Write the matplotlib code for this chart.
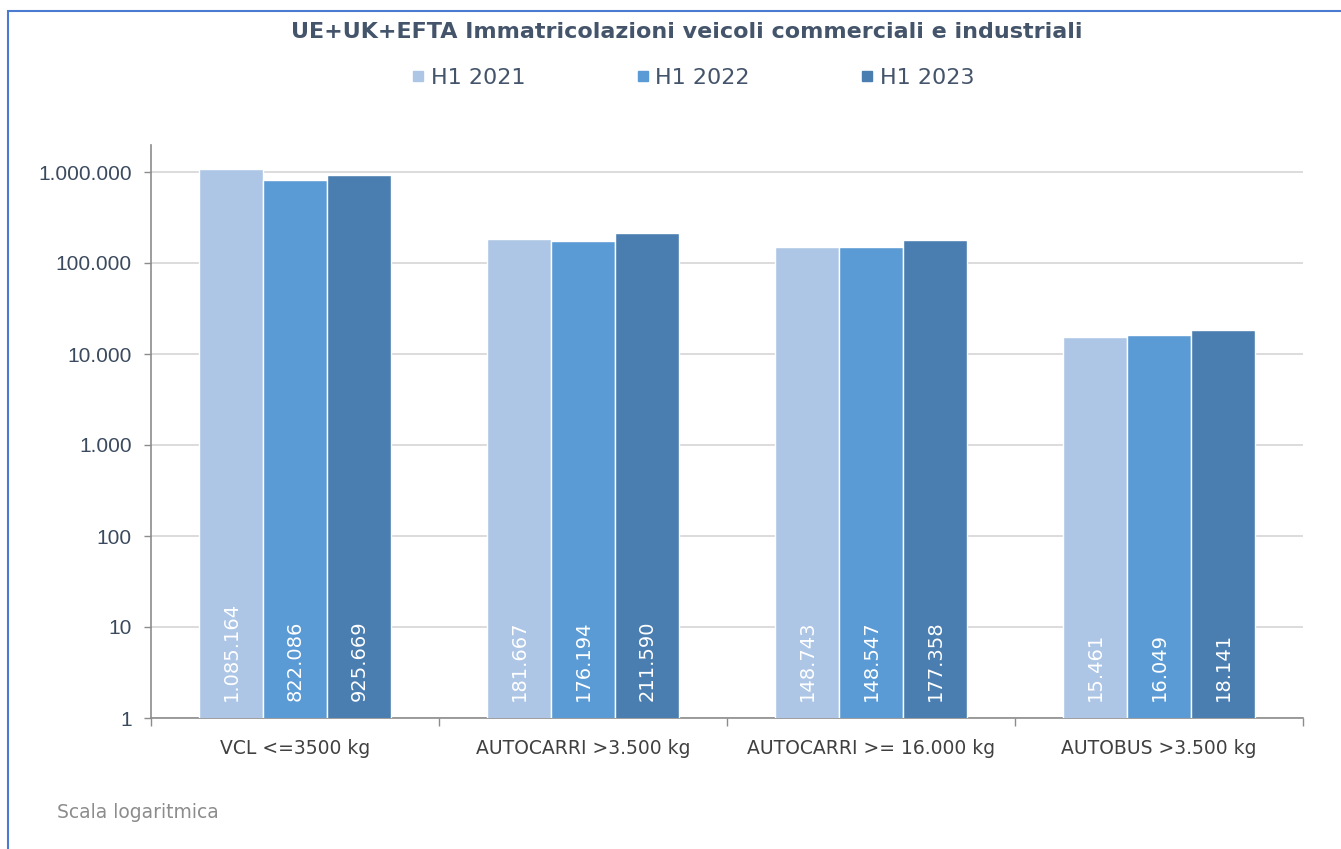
import matplotlib
matplotlib.use("Agg")
import matplotlib.pyplot as plt
from matplotlib.lines import Line2D
from matplotlib.patches import Rectangle
from matplotlib.ticker import FixedLocator, FuncFormatter, NullLocator
import numpy as np

categories = ["VCL <=3500 kg", "AUTOCARRI >3.500 kg", "AUTOCARRI >= 16.000 kg", "AUTOBUS >3.500 kg"]
series_names = ["H1 2021", "H1 2022", "H1 2023"]
h1_2021 = [1085164, 181667, 148743, 15461]
h1_2022 = [822086, 176194, 148547, 16049]
h1_2023 = [925669, 211590, 177358, 18141]
y_ticks = [1, 10, 100, 1000, 10000, 100000, 1000000]
title = "UE+UK+EFTA Immatricolazioni veicoli commerciali e industriali"
note = "Scala logaritmica"

colors = ["#AEC6E6", "#5B9BD5", "#4A7EB0"]

def it_fmt(v, pos=None):
    return f"{int(round(v)):,}".replace(",", ".")

W, H = 1341, 849
fig = plt.figure(figsize=(W / 100, H / 100), dpi=100)
fig.patch.set_facecolor("white")

# outer border (left and top visible)
fig.patches.append(Rectangle((8 / W, -0.2), 2.0, 1.2 - 11 / H, transform=fig.transFigure,
                             fill=False, edgecolor="#4A7BD0", linewidth=1.5))

ax = fig.add_axes([151 / W, 1 - 718 / H, (1303 - 151) / W, (718 - 145) / H])
ax.set_yscale("log")
ax.set_ylim(1, 10 ** ((718 - 145) / 91.0))
ax.set_xlim(-0.5, len(categories) - 0.5)

x = np.arange(len(categories))
bw = 64 / 288
all_series = [h1_2021, h1_2022, h1_2023]
for i, (vals, c, name) in enumerate(zip(all_series, colors, series_names)):
    pos = x + (i - 1) * bw
    ax.bar(pos, vals, width=bw, color=c, edgecolor="white", linewidth=1.0, zorder=3, label=name)
    for px, v in zip(pos, vals):
        ax.annotate(it_fmt(v), xy=(px, 1), xytext=(0, 17), textcoords="offset pixels",
                    rotation=90, ha="center", va="bottom", color="white",
                    fontsize=14, family="DejaVu Sans", zorder=4)

ax.yaxis.set_major_locator(FixedLocator(y_ticks))
ax.yaxis.set_minor_locator(NullLocator())
ax.yaxis.set_major_formatter(FuncFormatter(it_fmt))
ax.grid(axis="y", color="#D9D9D9", linewidth=1.3, zorder=0)
ax.set_axisbelow(True)

ax.set_xticks(x)
ax.set_xticklabels(categories)
ax.set_xticks(np.arange(len(categories) + 1) - 0.5, minor=True)
ax.tick_params(axis="x", which="major", length=0, pad=15, labelsize=13.5, labelcolor="#404040")
ax.tick_params(axis="x", which="minor", length=6, color="#8C8C8C", width=1)
ax.tick_params(axis="y", which="major", length=5, color="#8C8C8C", width=1, pad=9,
               labelsize=15, labelcolor="#3B4A5E")
for lbl in ax.get_yticklabels():
    lbl.set_family("Liberation Sans")

for s in ["top", "right"]:
    ax.spines[s].set_visible(False)
for s in ["left", "bottom"]:
    ax.spines[s].set_color("#8C8C8C")
    ax.spines[s].set_linewidth(1.2)

fig.text(687 / W, 1 - 32 / H, title, ha="center", va="center", fontsize=16,
         fontweight="bold", color="#44546A")

handles = [Line2D([], [], marker="s", linestyle="none", markersize=7.5, color=c) for c in colors]
fig.legend(handles, series_names, loc="center", bbox_to_anchor=(693 / W, 1 - 78 / H), ncol=3,
           frameon=False, fontsize=16, handlelength=0.6, handletextpad=0.25, columnspacing=5.0,
           labelcolor="#44546A")

fig.text(57 / W, 1 - 813 / H, note, ha="left", va="center", fontsize=13.5, color="#8C8C8C")

fig.savefig("out.png", dpi=100)
